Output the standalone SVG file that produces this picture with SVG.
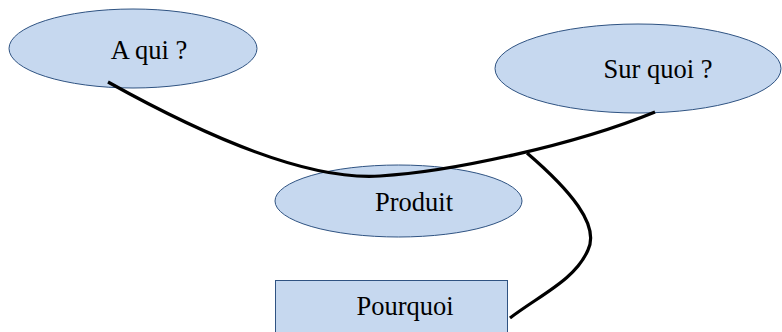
<svg xmlns="http://www.w3.org/2000/svg" width="782" height="332" viewBox="0 0 782 332">
<style>
.shape{fill:#c6d8ef;stroke:#2f5382;stroke-width:1}
.lbl{font-family:"Liberation Serif","Times New Roman",serif;font-size:26.5px;fill:#000;text-anchor:middle}
.conn{fill:none;stroke:#000;stroke-width:3.2;stroke-linecap:butt}
</style>
<rect width="782" height="332" fill="#fff"/>
<g id="aqui">
<ellipse class="shape" cx="133" cy="48.5" rx="124" ry="39.5"/>
<text class="lbl" x="149" y="59">A qui ?</text>
</g>
<g id="surquoi">
<ellipse class="shape" cx="638" cy="68.5" rx="143" ry="44.5"/>
<text class="lbl" x="658" y="78">Sur quoi ?</text>
</g>
<g id="produit">
<ellipse class="shape" cx="398.5" cy="201" rx="123.5" ry="36"/>
<text class="lbl" x="414" y="211">Produit</text>
</g>
<g id="pourquoi">
<rect class="shape" x="275.5" y="280.5" width="232" height="60"/>
<text class="lbl" x="405" y="315">Pourquoi</text>
</g>
<g id="connectors">
<path class="conn" d="M108,82 C230,150 320,180 380,176 C450,172 575,145 655,112"/>
<path class="conn" d="M527,153 C570,190 600,225 588,250 C575,280 540,295 510,318"/>
</g>
</svg>
